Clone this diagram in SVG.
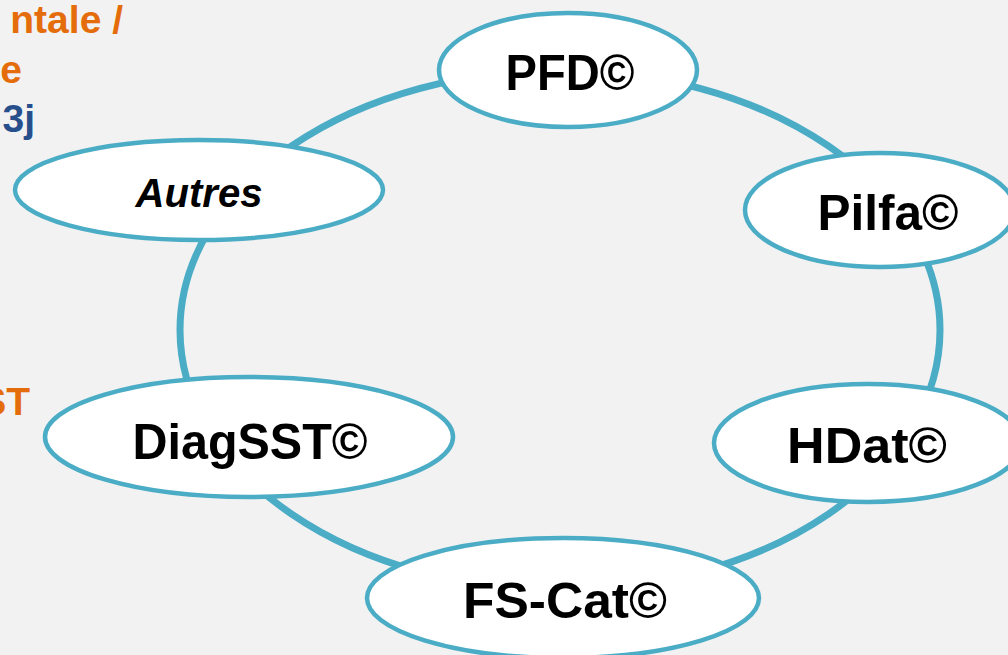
<svg xmlns="http://www.w3.org/2000/svg" width="1008" height="655" viewBox="0 0 1008 655">
<style>
.node ellipse{fill:#ffffff;stroke:#4bacc6;stroke-width:4.5}
.lbl{font-family:"Liberation Sans",Arial,sans-serif;font-weight:bold;font-size:50px;fill:#000;text-anchor:middle}
.side{font-family:"Liberation Sans",Arial,sans-serif;font-weight:bold;font-size:39px;text-anchor:end}
.or{fill:#e46c0a}
.bl{fill:#264f8c}
</style>
<rect x="0" y="0" width="1008" height="655" fill="#f2f2f2"/>
<g id="side-text">
<text class="side or" x="123" y="33">ntale /</text>
<text class="side or" x="22" y="83">e</text>
<text class="side bl" x="35" y="132">3j</text>
<text class="side or" x="30" y="415">ST</text>
</g>
<g id="connectors">
<ellipse cx="560" cy="330" rx="380" ry="260" fill="none" stroke="#4bacc6" stroke-width="7"/>
</g>
<g id="node-pfd" class="node">
<ellipse cx="568" cy="70" rx="129" ry="57"/>
<text class="lbl" x="570" y="90" textLength="129" lengthAdjust="spacingAndGlyphs">PFD©</text>
</g>
<g id="node-pilfa" class="node">
<ellipse cx="880" cy="210" rx="135" ry="57"/>
<text class="lbl" x="888" y="230" textLength="141" lengthAdjust="spacingAndGlyphs">Pilfa©</text>
</g>
<g id="node-hdat" class="node">
<ellipse cx="868" cy="443" rx="154" ry="59"/>
<text class="lbl" x="867" y="463" textLength="160" lengthAdjust="spacingAndGlyphs">HDat©</text>
</g>
<g id="node-fscat" class="node">
<ellipse cx="563" cy="598" rx="196" ry="60"/>
<text class="lbl" x="565" y="618" textLength="204" lengthAdjust="spacingAndGlyphs">FS-Cat©</text>
</g>
<g id="node-diagsst" class="node">
<ellipse cx="249" cy="437" rx="204" ry="60"/>
<text class="lbl" x="250" y="459" textLength="235" lengthAdjust="spacingAndGlyphs">DiagSST©</text>
</g>
<g id="node-autres" class="node">
<ellipse cx="199" cy="190" rx="184" ry="50"/>
<text class="lbl" x="199" y="207" style="font-size:40px;font-style:italic" textLength="127" lengthAdjust="spacingAndGlyphs">Autres</text>
</g>
</svg>
